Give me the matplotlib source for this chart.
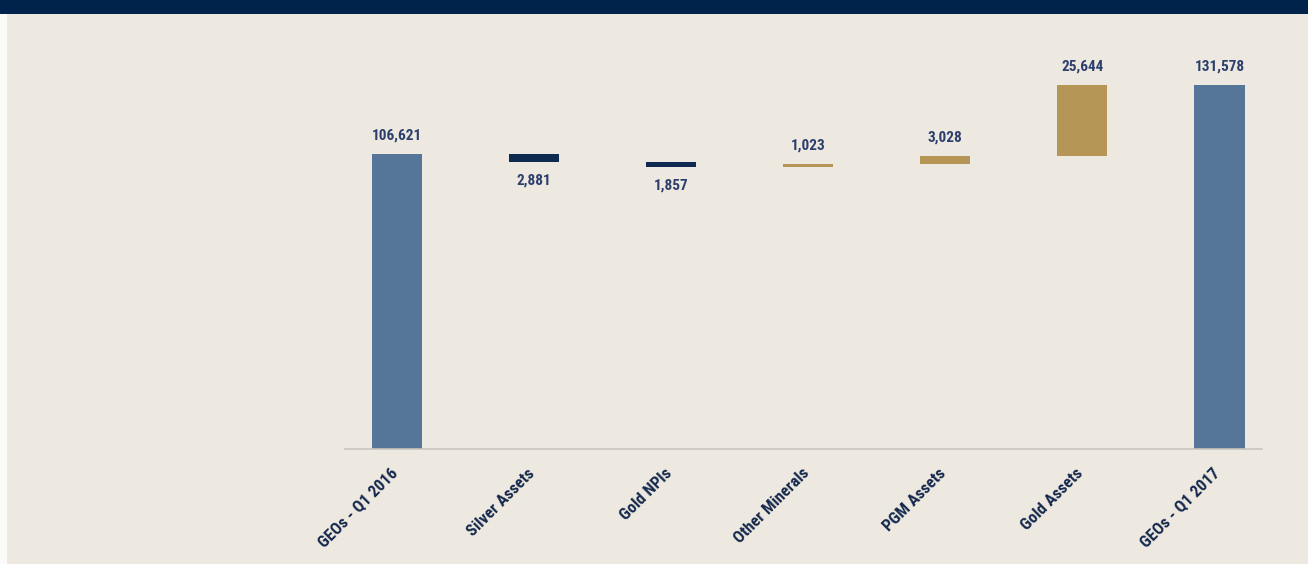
import matplotlib.pyplot as plt
from matplotlib.patches import Rectangle
from matplotlib.transforms import ScaledTranslation

# GEO waterfall, Q1 2016 -> Q1 2017
categories = ["GEOs - Q1 2016", "Silver Assets", "Gold NPIs", "Other Minerals",
              "PGM Assets", "Gold Assets", "GEOs - Q1 2017"]
start_total = 106621
changes = [-2881, -1857, 1023, 3028, 25644]
end_total = 131578

bg = "#EEE9E0"
navy = "#0E2A50"
steel = "#557699"
gold = "#B59657"
label_col = "#2C3F6C"

plt.rcParams['font.family'] = ['Roboto Condensed', 'Liberation Sans Narrow',
                               'Liberation Sans', 'DejaVu Sans']

fig = plt.figure(figsize=(13.08, 5.64), dpi=100)
fig.patch.set_facecolor(bg)

# dark header band across the top
fig.add_artist(Rectangle((0, 1 - 14 / 564), 1, 14 / 564, transform=fig.transFigure,
                         facecolor="#00234B", edgecolor="none"))
fig.add_artist(Rectangle((0, 0), 7 / 1308, 1 - 14 / 564, transform=fig.transFigure,
                         facecolor="#FAFAF8", edgecolor="none"))

ax = fig.add_axes([345 / 1308, 115 / 564, 917 / 1308, 409 / 564])
ax.set_facecolor(bg)

w = 0.365
fs = 11
gap = 4200
# opening total
ax.bar(0, start_total, width=w, color=steel)
ax.text(0, start_total + gap, f"{start_total:,}", ha="center", va="bottom",
        fontsize=fs, fontweight="bold", color=label_col)

running = start_total
for i, d in enumerate(changes, start=1):
    if d < 0:
        bottom = running + d
        ax.bar(i, -d, bottom=bottom, width=w, color=navy)
        ax.text(i, bottom - gap, f"{-d:,}", ha="center", va="top",
                fontsize=fs, fontweight="bold", color=label_col)
    else:
        bottom = running
        ax.bar(i, d, bottom=bottom, width=w, color=gold)
        ax.text(i, running + d + gap, f"{d:,}", ha="center", va="bottom",
                fontsize=fs, fontweight="bold", color=label_col)
    running += d

# closing total
n = len(categories) - 1
ax.bar(n, end_total, width=w, color=steel)
ax.text(n, end_total + gap, f"{end_total:,}", ha="center", va="bottom",
        fontsize=fs, fontweight="bold", color=label_col)

ax.set_xlim(-0.38, 6.31)
ax.set_ylim(0, start_total * 409 / 295)

for s in ["top", "right", "left"]:
    ax.spines[s].set_visible(False)
ax.spines["bottom"].set_color("#C9C5BD")
ax.spines["bottom"].set_linewidth(1.2)
ax.set_yticks([])
ax.set_xticks(range(len(categories)))
ax.set_xticklabels(categories, rotation=45, ha="right", va="top",
                   rotation_mode="anchor", fontsize=12, fontweight="bold",
                   color="#15294D")
ax.tick_params(axis="x", length=0, pad=12)
shift = ScaledTranslation(-7 / 100, 0, fig.dpi_scale_trans)
for lbl in ax.get_xticklabels():
    lbl.set_transform(lbl.get_transform() + shift)

fig.savefig("out.png", dpi=100, facecolor=bg)
